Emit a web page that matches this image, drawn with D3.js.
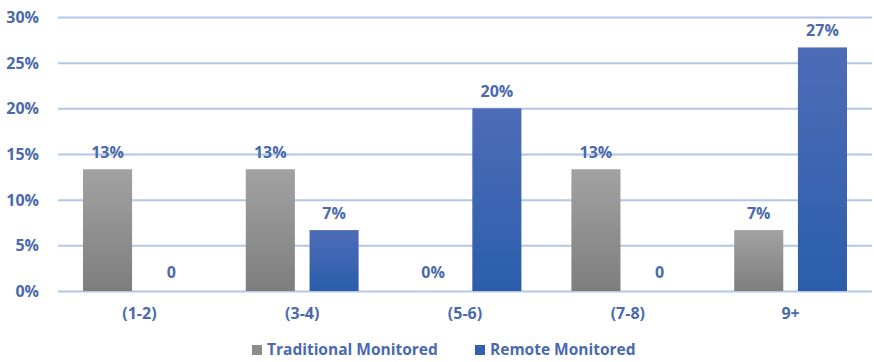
<!DOCTYPE html>
<html>
<head>
<meta charset="utf-8">
<script src="https://cdn.jsdelivr.net/npm/d3@7"></script>
<style>
  html, body { margin: 0; padding: 0; background: #fff; }
  svg { display: block; }
  text { font-family: "Open Sans", "Noto Sans", sans-serif; font-weight: 700; fill: #4a6aae; }
</style>
</head>
<body>
<svg id="chart" width="874" height="362"></svg>
<script>
// Share of patients by number of visits, for each monitoring group
const categories = ["(1-2)", "(3-4)", "(5-6)", "(7-8)", "9+"];
const seriesNames = ["Traditional Monitored", "Remote Monitored"];
const traditional = [0.1333, 0.1333, 0, 0.1333, 0.0667];
const remote = [0, 0.0667, 0.2, 0, 0.2667];
const traditionalLabels = ["13%", "13%", "0%", "13%", "7%"];
const remoteLabels = ["0", "7%", "20%", "0", "27%"];
const yTicks = [0, 0.05, 0.10, 0.15, 0.20, 0.25, 0.30];

const svg = d3.select("#chart");
const margin = { left: 58, right: 2, top: 17, bottom: 71 };
const W = 874, H = 362;
const FS = "16px";

const x0 = d3.scaleBand().domain(categories)
  .range([margin.left, W - margin.right]).paddingInner(0.307).paddingOuter(0.1535);
const x1 = d3.scaleBand().domain(seriesNames)
  .range([0, x0.bandwidth()]).paddingInner(0.23);
const y = d3.scaleLinear().domain([0, 0.30]).range([H - margin.bottom, margin.top]);

// gradients for bar fills
const defs = svg.append("defs");
const grads = [
  { id: "gTrad", top: "#a2a2a2", bottom: "#7e7e7e" },
  { id: "gRem", top: "#4e6cb8", bottom: "#2a5eab" }
];
grads.forEach(g => {
  const lg = defs.append("linearGradient").attr("id", g.id)
    .attr("x1", 0).attr("y1", 0).attr("x2", 0).attr("y2", 1);
  lg.append("stop").attr("offset", "0%").attr("stop-color", g.top);
  lg.append("stop").attr("offset", "100%").attr("stop-color", g.bottom);
});
const fills = { "Traditional Monitored": "url(#gTrad)", "Remote Monitored": "url(#gRem)" };
const swatch = { "Traditional Monitored": "#8c8c8c", "Remote Monitored": "#3560b0" };

// horizontal gridlines and y tick labels
const yAxis = d3.axisLeft(y).tickValues(yTicks).tickFormat(d3.format(".0%"))
  .tickSize(-(W - margin.right - margin.left)).tickPadding(19);
const gy = svg.append("g").attr("transform", `translate(${margin.left},0)`).call(yAxis);
gy.select(".domain").remove();
gy.selectAll(".tick line").attr("stroke", "#b4c6e7").attr("stroke-width", 2);
gy.selectAll(".tick text").style("font-size", FS).attr("fill", "#4a6aae")
  .attr("font-family", null).attr("dy", "0.34em");

// bars
const rows = categories.map((c, i) => ({
  cat: c,
  items: [
    { s: seriesNames[0], v: traditional[i], label: traditionalLabels[i] },
    { s: seriesNames[1], v: remote[i], label: remoteLabels[i] }
  ]
}));

const groups = svg.append("g").selectAll("g").data(rows).join("g")
  .attr("transform", d => `translate(${x0(d.cat)},0)`);

groups.selectAll("rect").data(d => d.items.filter(it => it.v > 0)).join("rect")
  .attr("x", d => x1(d.s))
  .attr("width", x1.bandwidth())
  .attr("y", d => y(d.v))
  .attr("height", d => y(0) - y(d.v))
  .attr("fill", d => fills[d.s]);

// value labels
groups.selectAll("text.val").data(d => d.items).join("text")
  .attr("class", "val")
  .attr("x", d => x1(d.s) + x1.bandwidth() / 2)
  .attr("y", d => d.v > 0 ? y(d.v) - 11 : y(0) - 13)
  .attr("text-anchor", "middle")
  .style("font-size", FS)
  .text(d => d.label);

// category axis labels
const xAxis = d3.axisBottom(x0).tickSize(0).tickPadding(17);
const gx = svg.append("g").attr("transform", `translate(0,${y(0)})`).call(xAxis);
gx.select(".domain").remove();
gx.selectAll(".tick text").style("font-size", FS)
  .attr("fill", "#4a6aae").attr("font-family", null);

// legend
const legendItems = [
  { s: seriesNames[0], x: 252 },
  { s: seriesNames[1], x: 475 }
];
const lg = svg.append("g").selectAll("g").data(legendItems).join("g")
  .attr("transform", d => `translate(${d.x},350)`);
lg.append("rect").attr("x", 0).attr("y", -5).attr("width", 10).attr("height", 10)
  .attr("fill", d => swatch[d.s]);
lg.append("text").attr("x", 15).attr("dy", "0.35em")
  .style("font-size", "15.5px")
  .text(d => d.s);
</script>
</body>
</html>
